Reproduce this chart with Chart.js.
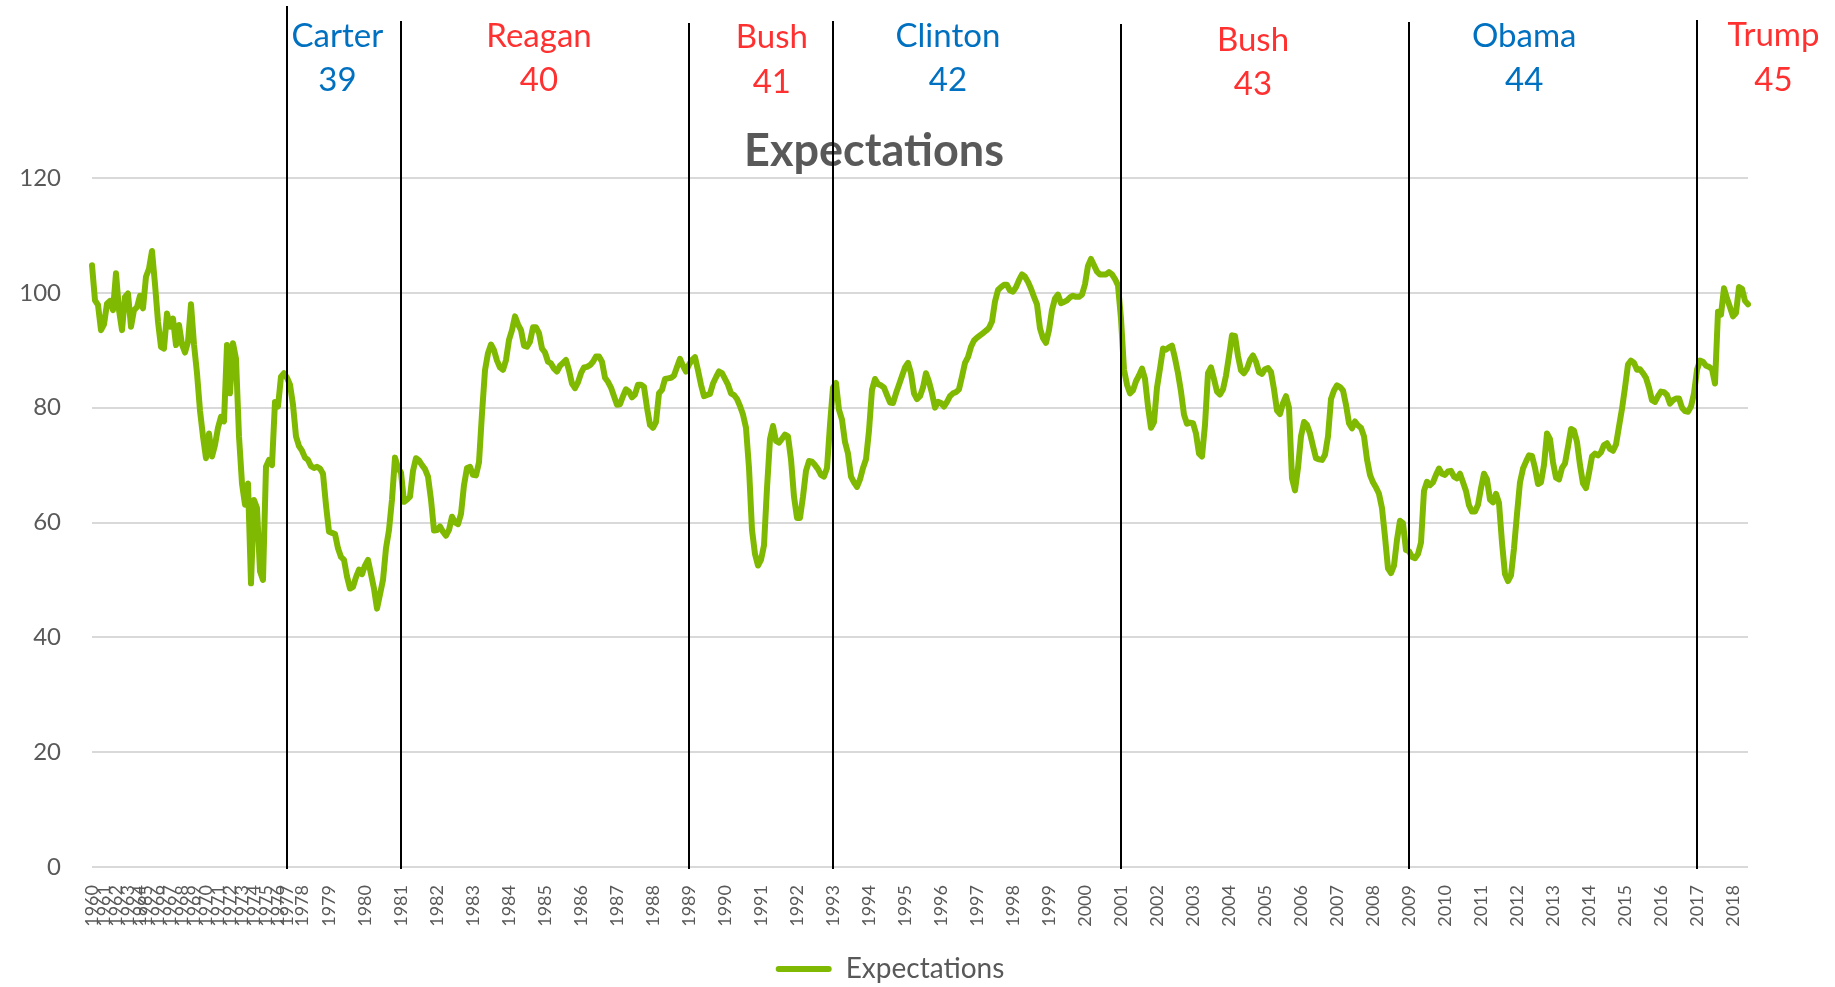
<!DOCTYPE html>
<html>
<head>
<meta charset="utf-8">
<title>Expectations</title>
<script src="https://cdn.jsdelivr.net/npm/chart.js@4.4.1/dist/chart.umd.min.js"></script>
<style>
  html, body { margin: 0; padding: 0; background: #fff; }
  canvas { display: block; }
</style>
</head>
<body>
<canvas id="chart" width="1835" height="987"></canvas>
<script>
/* global Chart */
// Consumer expectations index, 1960-2018, with presidential terms marked.
// Before 1978 the survey ran a few times a year; monthly from 1978 on.

const FIRST_YEAR = 1960;
// readings per calendar year, 1960 .. 2018
const READINGS_PER_YEAR = [
  4,4,4,4,2,4,4,4,4,4,4,4,4,4,4,4,3,5,   // 1960-1977
  9,                                     // 1978
  12,12,12,12,12,12,12,12,12,12,12,12,12,12,12,12,12,12,12,12,
  12,12,12,12,12,12,12,12,12,12,12,12,12,12,12,12,12,12,12,   // 1979-2017
  6                                      // 2018
];

const EXP_1960_1977 = [
  104.8, 98.7, 97.9, 93.5, 94.5, 98.1, 98.6, 97.0, 103.4, 97.0,
  93.5, 99.3, 99.9, 94.1, 97.0, 97.5, 99.5, 97.3, 102.8, 104.2,
  107.3, 101.5, 95.0, 90.6, 90.3, 96.4, 94.1, 95.5, 90.9, 94.4,
  91.0, 89.6, 91.5, 98.0, 91.0, 86.0, 79.5, 75.0, 71.2, 75.5,
  71.5, 73.5, 76.5, 78.4, 77.6, 90.9, 82.5, 91.2, 88.5, 75.0,
  66.8, 63.1, 66.8, 49.4, 63.9, 62.5, 51.5, 50.0, 69.7, 70.9,
  70.0, 81.0, 80.2, 85.4, 86.0, 85.2, 84.0, 80.5, 75.0, 73.3
];
const EXP_1978_1989 = [
  72.5, 71.3, 70.9, 69.8, 69.5, 69.7, 69.4, 68.5, 63.0,
  58.4, 58.2, 58.0, 55.5, 54.0, 53.5, 50.6, 48.5, 48.8, 50.5, 51.8, 51.0,
  52.5, 53.5, 51.0, 48.5, 45.0, 47.5, 50.0, 55.5, 58.7, 64.0, 71.3, 69.5,
  68.7, 63.6, 64.0, 64.5, 69.0, 71.2, 70.8, 70.0, 69.3, 68.0, 64.0, 58.6,
  58.7, 59.3, 58.4, 57.7, 58.7, 61.0, 60.0, 59.7, 61.5, 66.5, 69.5, 69.7,
  68.3, 68.2, 70.5, 79.0, 86.5, 89.5, 91.0, 90.0, 88.2, 87.0, 86.6, 88.3,
  91.8, 93.5, 95.9, 94.5, 93.5, 90.8, 90.6, 91.5, 94.0, 94.0, 93.0, 90.3,
  89.6, 88.0, 87.7, 86.8, 86.3, 87.3, 87.8, 88.3, 86.5, 84.2, 83.4, 84.4,
  86.0, 87.0, 87.1, 87.4, 88.0, 88.9, 88.9, 88.0, 85.2, 84.5, 83.5, 82.0,
  80.5, 80.6, 82.0, 83.2, 82.8, 81.8, 82.3, 84.0, 84.0, 83.6, 80.0, 77.0,
  76.5, 77.5, 82.5, 83.1, 85.0, 85.1, 85.2, 85.6, 87.1, 88.5, 87.3, 86.3,
  87.5, 88.3, 88.8, 86.5, 84.0, 82.0, 82.2, 82.4, 84.2, 85.3, 86.3, 86.0
];
const EXP_1990_1999 = [
  85.0, 84.0, 82.5, 82.2, 81.5, 80.3, 78.8, 76.5, 69.5, 58.7, 54.5, 52.5,
  53.5, 56.0, 66.0, 74.5, 76.8, 74.2, 73.9, 74.6, 75.3, 75.0, 71.0, 64.5,
  60.8, 60.8, 64.5, 69.0, 70.7, 70.6, 70.0, 69.3, 68.3, 68.0, 69.5, 77.0,
  83.5, 84.3, 79.6, 77.9, 74.0, 72.0, 68.0, 67.0, 66.2, 67.5, 69.5, 71.0,
  76.0, 83.1, 85.0, 84.1, 83.9, 83.5, 82.2, 80.9, 80.8, 82.5, 84.0, 85.5,
  87.0, 87.8, 86.0, 82.5, 81.5, 82.0, 83.5, 86.0, 84.5, 82.5, 80.0, 81.0,
  80.8, 80.2, 81.0, 82.0, 82.5, 82.7, 83.2, 85.4, 87.8, 88.8, 90.6, 91.7,
  92.2, 92.6, 93.0, 93.4, 93.9, 95.0, 98.5, 100.5, 101.0, 101.4, 101.4, 100.4,
  100.2, 101.0, 102.2, 103.2, 102.8, 101.9, 100.7, 99.3, 98.0, 93.8, 92.1, 91.3,
  93.5, 97.0, 99.0, 99.7, 98.2, 98.4, 98.7, 99.2, 99.5, 99.3, 99.3, 99.7
];
const EXP_2000_2009 = [
  101.5, 104.7, 105.9, 104.8, 103.7, 103.2, 103.2, 103.2, 103.6, 103.2, 102.4, 101.3,
  95.5, 86.6, 84.0, 82.5, 83.0, 84.6, 85.6, 86.8, 85.0, 80.2, 76.5, 77.5,
  83.5, 86.8, 90.3, 90.1, 90.5, 90.8, 88.6, 86.0, 82.8, 78.8, 77.2, 77.4,
  77.3, 75.5, 72.0, 71.5, 77.0, 86.0, 87.0, 85.0, 82.8, 82.3, 83.2, 85.6,
  89.0, 92.6, 92.5, 89.0, 86.5, 86.0, 86.8, 88.3, 89.1, 88.0, 86.2, 85.9,
  86.7, 86.9, 86.2, 83.2, 79.5, 78.9, 80.8, 82.0, 80.0, 67.7, 65.6, 69.5,
  75.0, 77.5, 77.0, 75.5, 73.3, 71.2, 71.0, 70.9, 71.8, 75.0, 81.5, 83.0,
  83.9, 83.6, 83.0, 80.5, 77.3, 76.4, 77.6, 76.9, 76.5, 75.0, 71.0, 68.3,
  67.0, 66.1, 65.0, 62.5, 57.5, 52.0, 51.2, 52.5, 57.0, 60.3, 59.9, 55.2,
  55.0, 54.0, 53.8, 54.5, 56.5, 65.5, 67.1, 66.5, 67.0, 68.3, 69.4, 68.5
];
const EXP_2010_2018 = [
  68.3, 68.9, 69.0, 68.0, 67.7, 68.5, 67.0, 65.5, 63.0, 61.9, 61.9, 63.1,
  66.0, 68.5, 67.5, 64.0, 63.5, 65.0, 63.4, 56.5, 51.0, 49.8, 50.8, 55.5,
  61.5, 67.0, 69.4, 70.6, 71.7, 71.6, 69.5, 66.7, 67.0, 70.0, 75.5, 74.5,
  70.5, 67.8, 67.5, 69.5, 70.3, 73.2, 76.3, 76.0, 74.0, 70.0, 66.8, 66.0,
  68.6, 71.5, 72.0, 71.7, 72.2, 73.5, 73.8, 72.8, 72.5, 73.6, 76.7, 79.8,
  83.5, 87.5, 88.2, 87.8, 86.6, 86.7, 86.0, 85.2, 83.5, 81.3, 81.0, 82.0,
  82.8, 82.7, 82.2, 80.7, 81.3, 81.6, 81.6, 80.0, 79.4, 79.3, 80.2, 82.5,
  86.6, 88.2, 88.0, 87.3, 87.1, 86.7, 84.2, 96.7, 96.2, 100.8, 99.0, 97.5,
  95.9, 96.5, 101.0, 100.7, 98.6, 98.0
];

const Y_TICKS = [0, 20, 40, 60, 80, 100, 120];

const PRESIDENTS = ['Carter', 'Reagan', 'Bush', 'Clinton', 'Bush', 'Obama', 'Trump'];
const PRES_NUMBERS = [39, 40, 41, 42, 43, 44, 45];
const PRES_PARTY = ['D', 'R', 'R', 'D', 'R', 'D', 'R'];
const TERM_START = [1977, 1981, 1989, 1993, 2001, 2009, 2017];

// annotation layout: label centre (category index), text rows, line tops
const LABEL_INDEX = [81.8, 149.0, 226.6, 285.3, 387.0, 477.4, 560.5];
const NAME_Y = [36, 36, 37.5, 36, 40, 36, 35];
const NUMBER_Y = [80, 80, 82, 80, 84, 80, 80];
const LINE_TOP = [6, 21, 23, 21, 24, 22, 20];
const LEGEND_SHIFT = 16;

const PARTY_COLOR = { D: '#0070c0', R: '#ff3030' };
const GREEN = '#80b902';
const GREY = '#595959';
const FONT = 'Lato, "Open Sans", sans-serif';

const values = [].concat(EXP_1960_1977, EXP_1978_1989, EXP_1990_1999, EXP_2000_2009, EXP_2010_2018);

// one label per reading: the year on its first reading, blank otherwise
const labels = [];
const yearStart = {};
READINGS_PER_YEAR.forEach((n, k) => {
  const yr = FIRST_YEAR + k;
  yearStart[yr] = labels.length;
  for (let j = 0; j < n; j++) labels.push(j === 0 ? String(yr) : '');
});

const termLines = {
  id: 'termLines',
  afterLayout(chart) {
    // nudge the legend a little right of the canvas centre
    chart.legend.left += LEGEND_SHIFT;
    chart.legend.right += LEGEND_SHIFT;
  },
  afterDatasetsDraw(chart) {
    const { ctx, chartArea, scales: { x } } = chart;
    ctx.save();
    ctx.strokeStyle = '#000';
    ctx.lineWidth = 2;
    TERM_START.forEach((yr, k) => {
      const px = Math.round(x.getPixelForValue(yearStart[yr]));
      ctx.beginPath();
      ctx.moveTo(px, LINE_TOP[k]);
      ctx.lineTo(px, chartArea.bottom + 2);
      ctx.stroke();
    });
    ctx.font = '33px ' + FONT;
    ctx.textAlign = 'center';
    ctx.textBaseline = 'middle';
    PRESIDENTS.forEach((name, k) => {
      const px = x.getPixelForValue(LABEL_INDEX[k]);
      ctx.fillStyle = PARTY_COLOR[PRES_PARTY[k]];
      ctx.fillText(name, px, NAME_Y[k]);
      ctx.fillText(String(PRES_NUMBERS[k]), px, NUMBER_Y[k]);
    });
    ctx.restore();
  }
};

new Chart(document.getElementById('chart'), {
  type: 'line',
  data: {
    labels,
    datasets: [{
      label: 'Expectations',
      data: values,
      borderColor: GREEN,
      backgroundColor: GREEN,
      borderWidth: 6,
      borderJoinStyle: 'round',
      borderCapStyle: 'round',
      pointRadius: 0,
      pointHoverRadius: 0,
      tension: 0,
      fill: false
    }]
  },
  options: {
    responsive: false,
    animation: false,
    devicePixelRatio: 1,
    layout: { padding: { left: 0, right: 87, top: 124, bottom: -6 } },
    plugins: {
      title: {
        display: true,
        text: 'Expectations',
        color: GREY,
        font: { family: FONT, size: 45, weight: 'bold' },
        padding: { top: 0, bottom: 0 }
      },
      legend: {
        position: 'bottom',
        labels: {
          color: GREY,
          font: { family: FONT, size: 28 },
          boxWidth: 56,
          boxHeight: 6,
          padding: 0,
          useBorderRadius: true,
          borderRadius: 3,
          generateLabels: chart =>
            Chart.defaults.plugins.legend.labels.generateLabels(chart).map(l => ({ ...l, lineWidth: 0 }))
        }
      },
      tooltip: { enabled: false }
    },
    scales: {
      x: {
        grid: { display: false, drawTicks: false },
        border: { display: false },
        ticks: {
          autoSkip: false,
          minRotation: 90,
          maxRotation: 90,
          padding: 18,
          color: GREY,
          font: { family: FONT, size: 18 }
        },
        afterFit: s => { s.height = 88; }
      },
      y: {
        min: 0,
        max: 120,
        grid: { color: '#d9d9d9', lineWidth: 2, drawTicks: false },
        border: { display: false },
        ticks: { padding: 31, color: GREY, font: { family: FONT, size: 24 } },
        afterBuildTicks: s => { s.ticks = Y_TICKS.map(v => ({ value: v })); },
        afterFit: s => { s.width = 92; }
      }
    }
  },
  plugins: [termLines]
});
</script>
</body>
</html>
